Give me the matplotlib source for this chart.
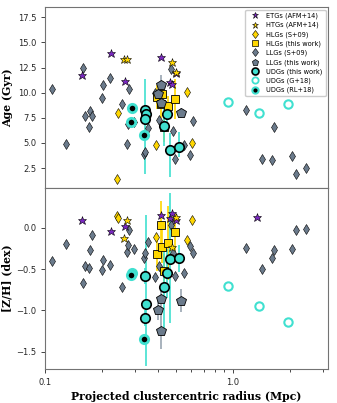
import numpy as np
import matplotlib
matplotlib.use('Agg')
import matplotlib.pyplot as plt
from matplotlib.lines import Line2D
from matplotlib.ticker import FixedLocator, FuncFormatter, NullFormatter, LogLocator

# ---------------- data ----------------
# ETGs (AFM+14)
etg_r = [0.158, 0.2244, 0.2664, 0.414, 0.4624, 0.4736, 0.4975, 1.347]
etg_age = [11.74, 13.9, 11.17, 13.6, 11.1, 10.84, 12.0, 14.5]
etg_zh = [0.09, -0.04, 0.02, 0.15, 0.12, 0.18, 0.10, 0.13]

# HTGs (AFM+14)
htg_r = [0.2632, 0.2741, 0.472, 0.4956]
htg_age = [13.37, 13.37, 13.1, 12.04]
htg_zh = [-0.12, 0.09, -0.23, 0.13]

# HLGs (S+09)
hlg09_r = [0.2425, 0.2446, 0.3908, 0.5713, 0.6075]
hlg09_age = [1.37, 8.0, 4.84, 10.1, 5.04]
hlg09_zh = [0.14, 0.12, -0.11, -0.15, 0.10]

# HLGs (this work)
hlg_r = [0.3957, 0.4124, 0.4206, 0.4268, 0.4483, 0.4933]
hlg_age = [9.6, 8.9, 9.84, 6.6, 8.67, 9.37]
hlg_age_err = [1.2, 1.4, 1.3, 1.5, 1.0, 2.0]
hlg_zh = [-0.32, 0.03, -0.23, -0.52, -0.18, -0.05]
hlg_zh_err = [0.2, 0.3, 0.2, 0.2, 0.45, 0.22]

# LLGs (S+09)
llg09_r = [0.1086, 0.1288, 0.1586, 0.1626, 0.1708, 0.1742, 0.1767, 0.2022,
           0.2010, 0.2225, 0.2568, 0.2808, 0.2720, 0.2753, 0.2974, 0.3362,
           0.3416, 0.3531, 0.3847, 0.4055, 0.4680, 0.4813, 0.4915, 0.5487,
           0.5906, 0.6150, 1.172, 1.421, 1.618, 1.652, 2.052, 2.156, 2.436]
llg09_age = [10.37, 4.87, 12.5, 7.7, 6.6, 8.17, 7.7, 10.8,
             9.5, 11.47, 8.84, 10.37, 4.94, 6.87, 7.05, 3.87,
             4.1, 6.5, 9.94, 7.27, 12.4, 6.2, 3.4, 4.77,
             3.8, 7.2, 8.27, 3.44, 3.34, 6.54, 3.7, 1.94, 2.5]
llg09_zh = [-0.40, -0.19, -0.67, -0.46, -0.49, -0.27, -0.09, -0.39,
            -0.51, -0.45, -0.71, -0.03, -0.29, -0.21, -0.25, -0.36,
            -0.31, -0.17, -0.59, -0.46, 0.04, -0.30, -0.58, -0.55,
            -0.22, -0.31, -0.24, -0.50, -0.36, -0.27, -0.25, -0.02, -0.01]

# LLGs (this work)
llg_r = [0.4006, 0.4124, 0.414, 0.5255]
llg_age = [9.9, 10.77, 8.94, 7.94]
llg_age_err = [0.5, 1.0, 0.6, 0.5]
llg_zh = [-1.0, -1.25, -0.86, -0.88]
llg_zh_err = [0.12, 0.22, 0.1, 0.14]

# UDGs (this work)
udg_r = [0.339, 0.343, 0.341, 0.444, 0.427, 0.4616, 0.516]
udg_age = [8.27, 7.87, 7.34, 7.87, 6.7, 4.27, 4.6]
udg_age_lo = [0.4, 0.4, 5.4, 1.0, 2.0, 2.7, 1.0]
udg_age_hi = [0.4, 0.4, 4.0, 1.0, 2.0, 1.7, 1.5]
udg_zh = [-0.58, -0.92, -1.09, -0.55, -0.71, -0.375, -0.37]
udg_zh_lo = [0.1, 0.75, 0.1, 0.3, 0.5, 0.78, 0.16]
udg_zh_hi = [0.1, 1.07, 0.1, 0.3, 0.5, 0.8, 0.16]

# UDGs (G+18)
g18_r = [0.944, 1.38, 1.954]
g18_age = [9.1, 7.94, 8.9]
g18_zh = [-0.70, -0.94, -1.14]

# UDGs (RL+18)
rl18_r = [0.2904, 0.2858, 0.336]
rl18_age = [8.5, 7.07, 5.77]
rl18_zh = [-0.55, -0.57, -1.34]

# ---------------- style ----------------
PURPLE = '#7a28c0'
GOLD = '#ffd700'
GRAY = '#6b7b8c'
TURQ = '#40e0d0'

fig = plt.figure(figsize=(3.37, 4.03), dpi=100)
ax1 = fig.add_axes([0.134, 0.533, 0.839, 0.449])
ax2 = fig.add_axes([0.134, 0.084, 0.839, 0.449], sharex=ax1)


def draw(ax, key):
    d = {
        'age': (etg_age, htg_age, hlg09_age, hlg_age, llg09_age, llg_age, udg_age, g18_age, rl18_age),
        'zh': (etg_zh, htg_zh, hlg09_zh, hlg_zh, llg09_zh, llg_zh, udg_zh, g18_zh, rl18_zh),
    }[key]
    e_etg, e_htg, e_h09, e_h, e_l09, e_l, e_u, e_g, e_rl = d
    if key == 'age':
        herr, lerr = hlg_age_err, llg_age_err
        uerr = [udg_age_lo, udg_age_hi]
    else:
        herr, lerr = hlg_zh_err, llg_zh_err
        uerr = [udg_zh_lo, udg_zh_hi]

    # errorbars
    ax.errorbar(hlg_r, e_h, yerr=herr, fmt='none', ecolor=GOLD, elinewidth=1.2, zorder=1)
    ax.errorbar(llg_r, e_l, yerr=lerr, fmt='none', ecolor='#9aa6b2', elinewidth=1.2, zorder=1)
    ax.errorbar(udg_r, e_u, yerr=uerr, fmt='none', ecolor=TURQ, elinewidth=1.2, zorder=1)

    ax.plot(llg09_r, e_l09, ls='none', marker='d', ms=5.2, mfc=GRAY, mec='k', mew=0.4, zorder=2)
    ax.plot(hlg09_r, e_h09, ls='none', marker='d', ms=5.2, mfc=GOLD, mec='k', mew=0.4, zorder=2)
    ax.plot(hlg_r, e_h, ls='none', marker='s', ms=5.2, mfc=GOLD, mec='k', mew=0.6, zorder=3)
    ax.plot(llg_r, e_l, ls='none', marker='p', ms=7.2, mfc=GRAY, mec='k', mew=0.6, zorder=3)
    ax.plot(udg_r, e_u, ls='none', marker='o', ms=6.8, mfc=TURQ, mec='k', mew=1.2, zorder=3.5)
    ax.plot(g18_r, e_g, ls='none', marker='o', ms=6.0, mfc='none', mec=TURQ, mew=1.5, zorder=3.5)
    ax.plot(rl18_r, e_rl, ls='none', marker='o', ms=6.0, mfc='k', mec=TURQ, mew=2.0, zorder=3.5)
    ax.plot(etg_r, e_etg, ls='none', marker='*', ms=6.3, mfc=PURPLE, mec='k', mew=0.4, zorder=4)
    ax.plot(htg_r, e_htg, ls='none', marker='*', ms=6.3, mfc=GOLD, mec='k', mew=0.4, zorder=4)


draw(ax1, 'age')
draw(ax2, 'zh')

ax1.set_xscale('log')
ax1.set_xlim(0.1, 3.2)
ax1.set_ylim(0.5, 18.5)
ax2.set_ylim(-1.71, 0.48)

ax1.set_yticks([2.5, 5.0, 7.5, 10.0, 12.5, 15.0, 17.5])
ax2.set_yticks([-1.5, -1.0, -0.5, 0.0])

ax2.xaxis.set_major_locator(FixedLocator([0.1, 1.0]))
ax2.xaxis.set_major_formatter(FuncFormatter(lambda v, p: '%.1f' % v))
ax2.xaxis.set_minor_locator(LogLocator(base=10, subs=np.arange(2, 10)))
ax2.xaxis.set_minor_formatter(NullFormatter())
plt.setp(ax1.get_xticklabels(), visible=False)

for ax in (ax1, ax2):
    ax.tick_params(labelsize=6, width=0.6, length=3, colors='0.15')
    ax.tick_params(which='minor', width=0.5, length=2)
    for s in ax.spines.values():
        s.set_color('0.45')
        s.set_linewidth(0.8)

lab_font = dict(family='DejaVu Serif', weight='bold', size=7.8)
ax1.set_ylabel('Age (Gyr)', **lab_font, labelpad=3)
ax2.set_ylabel('[Z/H] (dex)', **lab_font, labelpad=3)
ax2.set_xlabel('Projected clustercentric radius (Mpc)', **lab_font, labelpad=3)

handles = [
    Line2D([], [], ls='none', marker='*', ms=5, mfc=PURPLE, mec='k', mew=0.4),
    Line2D([], [], ls='none', marker='*', ms=5, mfc=GOLD, mec='k', mew=0.4),
    Line2D([], [], ls='none', marker='d', ms=4.5, mfc=GOLD, mec='k', mew=0.4),
    Line2D([], [], ls='none', marker='s', ms=4.5, mfc=GOLD, mec='k', mew=0.5),
    Line2D([], [], ls='none', marker='d', ms=4.5, mfc=GRAY, mec='k', mew=0.4),
    Line2D([], [], ls='none', marker='p', ms=5, mfc=GRAY, mec='k', mew=0.5),
    Line2D([], [], ls='none', marker='o', ms=5, mfc=TURQ, mec='k', mew=1.2),
    Line2D([], [], ls='none', marker='o', ms=4.5, mfc='none', mec=TURQ, mew=1.3),
    Line2D([], [], ls='none', marker='o', ms=4.5, mfc='k', mec=TURQ, mew=1.5),
]
labels = ['ETGs (AFM+14)', 'HTGs (AFM+14)', 'HLGs (S+09)', 'HLGs (this work)',
          'LLGs (S+09)', 'LLGs (this work)', 'UDGs (this work)', 'UDGs (G+18)',
          'UDGs (RL+18)']
leg = ax1.legend(handles, labels, loc='upper right', fontsize=4.8, framealpha=1.0,
                 labelspacing=0.42, borderaxespad=0.35, handletextpad=0.7,
                 borderpad=0.45)
leg.set_zorder(10)

fig.savefig('out.png', dpi=100)
